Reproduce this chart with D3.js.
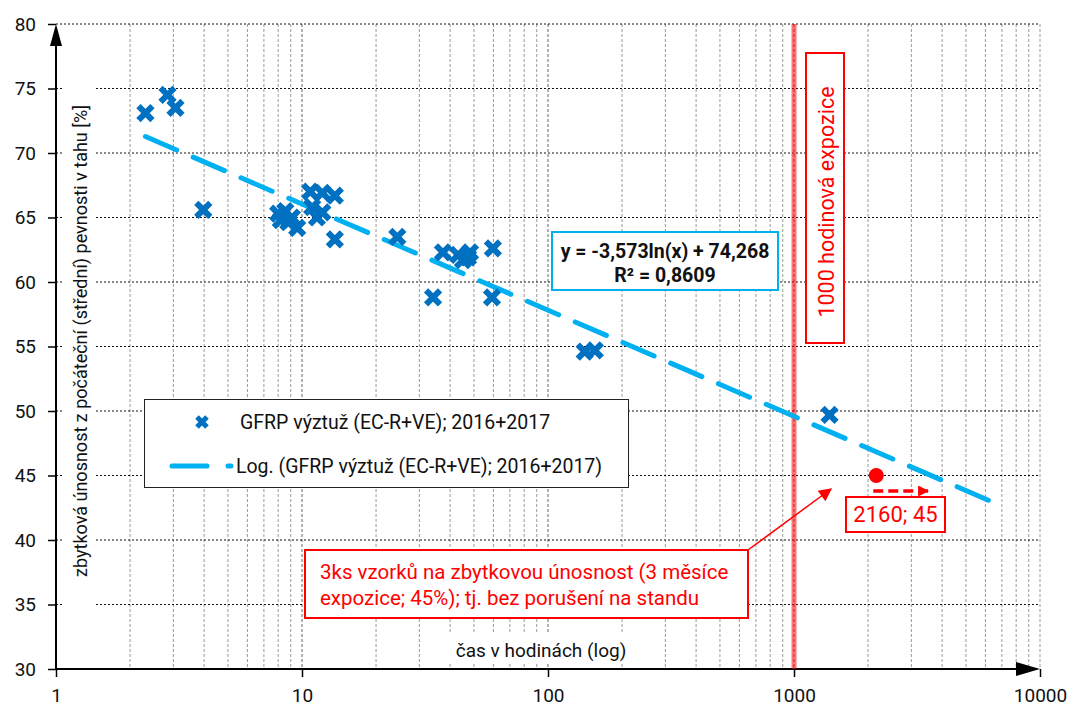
<!DOCTYPE html>
<html><head><meta charset="utf-8">
<script src="https://cdn.jsdelivr.net/npm/d3@7"></script>
<style>body{margin:0;background:#fff}svg{display:block}text{font-family:Roboto,"DejaVu Sans",sans-serif}</style>
</head><body><svg id="c" width="1070" height="706"></svg>
<script>
// ---- data ----
const hours = [2.31, 2.84, 3.06, 3.97, 8.0, 8.55, 9.1, 8.2, 8.79, 9.56, 10.8, 12.1, 13.6, 11.0, 12.1, 11.5, 13.6, 24.4, 34.1, 37.4, 43.1, 45.1, 48.2, 47.3, 59.7, 59.2, 141, 155, 1395];
const residual = [73.1, 74.5, 73.5, 65.6, 65.3, 65.5, 65.0, 64.8, 64.65, 64.2, 67.0, 66.9, 66.7, 65.8, 65.4, 65.0, 63.3, 63.5, 58.8, 62.3, 62.1, 61.7, 62.3, 61.9, 62.6, 58.8, 54.6, 54.7, 49.7];
const trendCoef = [-3.573, 74.268];   // y = a ln(x) + b
const trendRange = [2.31, 6500];
const extraPoint = [2160, 45];
const exposureHours = [1000];
const yTicks = [30, 35, 40, 45, 50, 55, 60, 65, 70, 75, 80];
const xTicks = [1, 10, 100, 1000, 10000];
const seriesName = "GFRP výztuž (EC-R+VE); 2016+2017";
const trendName = "Log. (GFRP výztuž (EC-R+VE); 2016+2017)";

const svg = d3.select("#c");
const x = d3.scaleLog().domain([1, 10000]).range([56, 1040]);
const y = d3.scaleLinear().domain([30, 80]).range([669, 24]);
const blue = "#0070C0", lblue = "#00B0F0", red = "#FF0000";

// vertical grid (minor + major)
const vGrid = [];
for (let d = 1; d < 10000; d *= 10) for (let k = 1; k <= 10; k++) if (d * k > 1) vGrid.push(d * k);
svg.append("g").selectAll("line").data(vGrid).join("line")
  .attr("x1", d => x(d)).attr("x2", d => x(d)).attr("y1", y(80)).attr("y2", y(30))
  .attr("stroke", "#999").attr("stroke-width", 1).attr("stroke-dasharray", "3,2");
// horizontal grid
svg.append("g").selectAll("line").data(yTicks.filter(t => t > 30)).join("line")
  .attr("x1", x(1)).attr("x2", x(10000)).attr("y1", d => y(d)).attr("y2", d => y(d))
  .attr("stroke", "#111").attr("stroke-width", 1).attr("stroke-dasharray", "2,2");

// white backgrounds of axis titles
svg.append("rect").attr("x", 63).attr("y", 60).attr("width", 33).attr("height", 562).attr("fill", "#fff");
svg.append("rect").attr("x", 445).attr("y", 632).attr("width", 192).attr("height", 31).attr("fill", "#fff");

// axes
const yAxis = d3.axisLeft(y).tickValues(yTicks).tickSize(8).tickPadding(12).tickFormat(d3.format("d"));
const gy = svg.append("g").attr("transform", `translate(${x(1)},0)`).call(yAxis);
gy.select(".domain").remove();
gy.selectAll("line").attr("stroke", "#000").attr("stroke-width", 1.5);
gy.selectAll("text").attr("font-size", 19).attr("fill", "#111").attr("font-family", "Roboto");
const xAxis = d3.axisBottom(x).tickValues(xTicks).tickSize(8).tickPadding(12).tickFormat(d3.format("d"));
const gx = svg.append("g").attr("transform", `translate(0,${y(30)})`).call(xAxis);
gx.select(".domain").remove();
gx.selectAll("line").attr("stroke", "#000").attr("stroke-width", 1.5);
gx.selectAll("text").attr("font-size", 19).attr("fill", "#111").attr("font-family", "Roboto");

svg.append("line").attr("x1", x(1)).attr("x2", x(1)).attr("y1", y(30)).attr("y2", y(80) + 18).attr("stroke", "#000").attr("stroke-width", 2);
svg.append("path").attr("d", `M${x(1)},${y(80)} L${x(1) - 6},${y(80) + 22} L${x(1) + 6},${y(80) + 22}Z`).attr("fill", "#000");
svg.append("line").attr("x1", x(1)).attr("x2", x(10000) - 18).attr("y1", y(30)).attr("y2", y(30)).attr("stroke", "#000").attr("stroke-width", 2);
svg.append("path").attr("d", `M${x(10000)},${y(30)} L${x(10000) - 24},${y(30) - 7} L${x(10000) - 24},${y(30) + 7}Z`).attr("fill", "#000");

// axis titles
svg.append("text").attr("transform", `translate(80,${(67 + 615) / 2}) rotate(-90)`).attr("text-anchor", "middle")
  .attr("dominant-baseline", "central").attr("font-size", 18).attr("fill", "#111")
  .text("zbytková únosnost z počáteční (střední) pevnosti v tahu [%]");
svg.append("text").attr("x", 541).attr("y", 657).attr("text-anchor", "middle").attr("font-size", 19).attr("fill", "#111")
  .text("čas v hodinách (log)");

// 1000 h line
svg.selectAll(".exp").data(exposureHours).join("line").attr("class", "exp")
  .attr("x1", d => x(d)).attr("x2", d => x(d)).attr("y1", y(80)).attr("y2", y(30))
  .attr("stroke", red).attr("stroke-opacity", 0.55).attr("stroke-width", 5);

// trendline
const tl = d3.line().x(d => x(d)).y(d => y(trendCoef[0] * Math.log(d) + trendCoef[1]));
svg.append("path").attr("d", tl(trendRange)).attr("fill", "none").attr("stroke", lblue)
  .attr("stroke-width", 5).attr("stroke-linecap", "round").attr("stroke-dasharray", "34,18");

// markers
const xm = "M-7,-7L7,7M-7,7L7,-7";
svg.append("g").selectAll("path").data(hours.map((h, i) => [h, residual[i]])).join("path")
  .attr("transform", d => `translate(${x(d[0])},${y(d[1])})`).attr("d", xm)
  .attr("stroke", blue).attr("stroke-width", 6).attr("fill", "none");

// equation box
svg.append("rect").attr("x", 552).attr("y", 232).attr("width", 226).attr("height", 58).attr("fill", "#fff")
  .attr("stroke", lblue).attr("stroke-width", 2);
const eq = svg.append("text").attr("text-anchor", "middle").attr("font-size", 19.5).attr("font-weight", "bold").attr("fill", "#111");
eq.append("tspan").attr("x", 665).attr("y", 258).text(`y = ${String(trendCoef[0]).replace(".", ",")}ln(x) + ${String(trendCoef[1]).replace(".", ",")}`);
eq.append("tspan").attr("x", 665).attr("y", 282).text("R² = 0,8609");

// 1000 h label box
svg.append("rect").attr("x", 806).attr("y", 53).attr("width", 38).attr("height", 290).attr("fill", "#fff")
  .attr("stroke", red).attr("stroke-width", 2);
svg.append("text").attr("transform", `translate(826,202) rotate(-90)`).attr("text-anchor", "middle")
  .attr("dominant-baseline", "central").attr("font-size", 21.5).attr("fill", red).text("1000 hodinová expozice");

// legend
svg.append("rect").attr("x", 144.5).attr("y", 399.5).attr("width", 484).attr("height", 88).attr("fill", "#fff")
  .attr("stroke", "#222").attr("stroke-width", 1);
svg.append("path").attr("transform", "translate(202,422)").attr("d", "M-5,-5L5,5M-5,5L5,-5")
  .attr("stroke", blue).attr("stroke-width", 5).attr("fill", "none");
svg.append("text").attr("x", 240).attr("y", 429).attr("font-size", 19.5).attr("fill", "#111").text(seriesName);
svg.append("line").attr("x1", 172).attr("x2", 231).attr("y1", 466).attr("y2", 466).attr("stroke", lblue)
  .attr("stroke-width", 5).attr("stroke-linecap", "round").attr("stroke-dasharray", "35,21");
svg.append("text").attr("x", 236).attr("y", 473).attr("font-size", 19.5).attr("fill", "#111").text(trendName);

// note box
svg.append("rect").attr("x", 305).attr("y", 550).attr("width", 443).attr("height", 68).attr("fill", "#fff")
  .attr("stroke", red).attr("stroke-width", 2);
const nt = svg.append("text").attr("font-size", 20.5).attr("fill", red);
nt.append("tspan").attr("x", 320).attr("y", 579).text("3ks vzorků na zbytkovou únosnost (3 měsíce");
nt.append("tspan").attr("x", 320).attr("y", 605).text("expozice; 45%); tj. bez porušení na standu");

// arrows
const defs = svg.append("defs");
defs.append("marker").attr("id", "ah").attr("viewBox", "0 0 10 10").attr("refX", 9).attr("refY", 5)
  .attr("markerWidth", 16).attr("markerHeight", 13).attr("markerUnits", "userSpaceOnUse").attr("orient", "auto")
  .append("path").attr("d", "M0,0L10,5L0,10Z").attr("fill", red);
defs.append("marker").attr("id", "ah2").attr("viewBox", "0 0 10 10").attr("refX", 9).attr("refY", 5)
  .attr("markerWidth", 13).attr("markerHeight", 11).attr("markerUnits", "userSpaceOnUse").attr("orient", "auto")
  .append("path").attr("d", "M0,0L10,5L0,10Z").attr("fill", red);
svg.append("line").attr("x1", 748).attr("y1", 550).attr("x2", 831).attr("y2", 489)
  .attr("stroke", red).attr("stroke-width", 1.5).attr("marker-end", "url(#ah)");

// red point
svg.append("circle").attr("cx", x(extraPoint[0])).attr("cy", y(extraPoint[1])).attr("r", 7.5).attr("fill", red);
svg.append("line").attr("x1", x(extraPoint[0]) - 3).attr("x2", 928).attr("y1", 491).attr("y2", 491)
  .attr("stroke", red).attr("stroke-width", 3.5).attr("stroke-dasharray", "10,5").attr("marker-end", "url(#ah2)");
svg.append("rect").attr("x", 846).attr("y", 497).attr("width", 99).attr("height", 35).attr("fill", "#fff")
  .attr("stroke", red).attr("stroke-width", 2);
svg.append("text").attr("x", 895.5).attr("y", 522).attr("text-anchor", "middle").attr("font-size", 22)
  .attr("font-family", "Lato").attr("fill", red).text(`${extraPoint[0]}; ${extraPoint[1]}`);
</script></body></html>
